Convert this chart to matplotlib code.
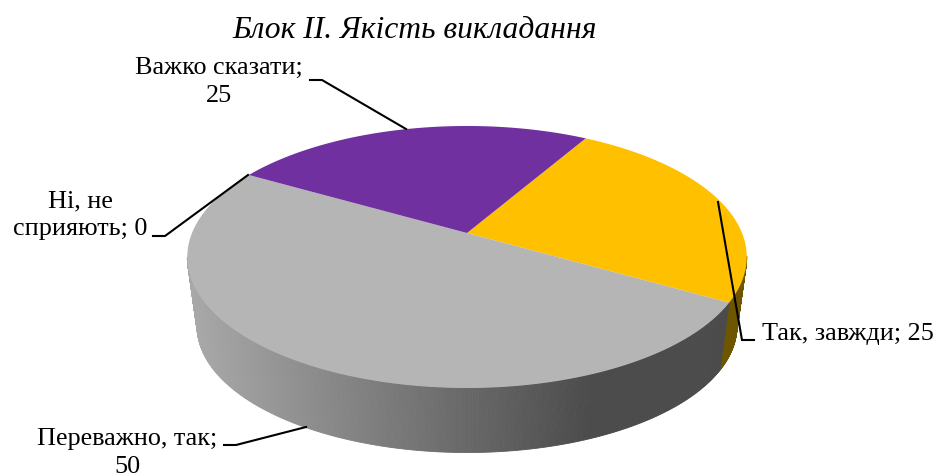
import matplotlib
matplotlib.use('Agg')
import matplotlib.pyplot as plt
import numpy as np

# data
labels = ['Так, завжди', 'Переважно, так', 'Ні, не\nсприяють', 'Важко сказати']
values = [25, 50, 0, 25]
top_colors = ['#FFC000', '#B5B5B5', '#A5A5A5', '#7030A0']
title = 'Блок ІІ. Якість викладання'

plt.rcParams['font.family'] = ['Liberation Serif', 'DejaVu Serif']

fig = plt.figure(figsize=(9.37, 4.75), dpi=100)
ax = fig.add_axes([0, 0, 1, 1])
ax.set_xlim(0, 937)
ax.set_ylim(475, 0)
ax.axis('off')

# perspective of the pie
cx, cy = 467, 233
a, b, k = 275, 126.6, 0.183


def project(t, r=1.0, s=1.0, dy=0.0):
    u = r * np.cos(t)
    v = r * np.sin(t)
    w = 1 + k * v
    return cx + s * a * u / w, cy + dy - s * b * v / w


depth = 70
shrink = 0.965

# angles of the slices, clockwise from 60 deg
shares = np.array(values) / sum(values)
ends = 60 - 360 * np.cumsum(shares)
starts = ends + 360 * shares


def side_gray(x):
    f = np.clip((x - 196) / (590 - 196), 0, 1)
    g = 0xA8 + (0x4B - 0xA8) * f
    return (g / 255, g / 255, g / 255)


# side wall first, the top covers what is left
for i in range(len(values)):
    if values[i] == 0:
        continue
    t = np.radians(np.linspace(starts[i], ends[i], 361))
    for j in range(len(t) - 1):
        if np.sin((t[j] + t[j + 1]) / 2) > -0.18:
            continue
        x1, y1 = project(t[j:j + 2])
        x2, y2 = project(t[j:j + 2], s=shrink, dy=depth)
        col = '#6E5500' if i == 0 else side_gray((x1.mean() + x2.mean()) / 2)
        ax.fill(np.r_[x1, x2[::-1]], np.r_[y1, y2[::-1]], color=col, lw=0.6, zorder=1)

# top of the slices
for i in range(len(values)):
    if values[i] == 0:
        continue
    t = np.radians(np.linspace(starts[i], ends[i], 200))
    x, y = project(t)
    ax.fill(np.r_[cx, x], np.r_[cy, y], color=top_colors[i], lw=0, zorder=2)

# leader lines
line_kw = dict(color='black', lw=1.5, zorder=3, solid_joinstyle='miter')
ax.plot([754, 742, 718], [340, 340, 202], **line_kw)
ax.plot([224, 236, 306], [445, 445, 427], **line_kw)
ax.plot([153, 165, 248], [236, 236, 175], **line_kw)
ax.plot([310, 322, 406], [80, 80, 129], **line_kw)

# data labels
fs = 18.8
ax.text(848, 334, f'{labels[0]}; {values[0]}', fontsize=fs, ha='center', va='center')
ax.text(127, 453, f'{labels[1]};\n{values[1]}', fontsize=fs, ha='center', va='center', linespacing=1.32)
ax.text(80, 215, f'{labels[2]}; {values[2]}', fontsize=fs, ha='center', va='center', linespacing=1.32)
ax.text(219, 82, f'{labels[3]};\n{values[3]}', fontsize=fs, ha='center', va='center', linespacing=1.32)

ax.text(415, 31, title, fontsize=22.8, style='italic', ha='center', va='center')

fig.savefig('out.png', dpi=100)
